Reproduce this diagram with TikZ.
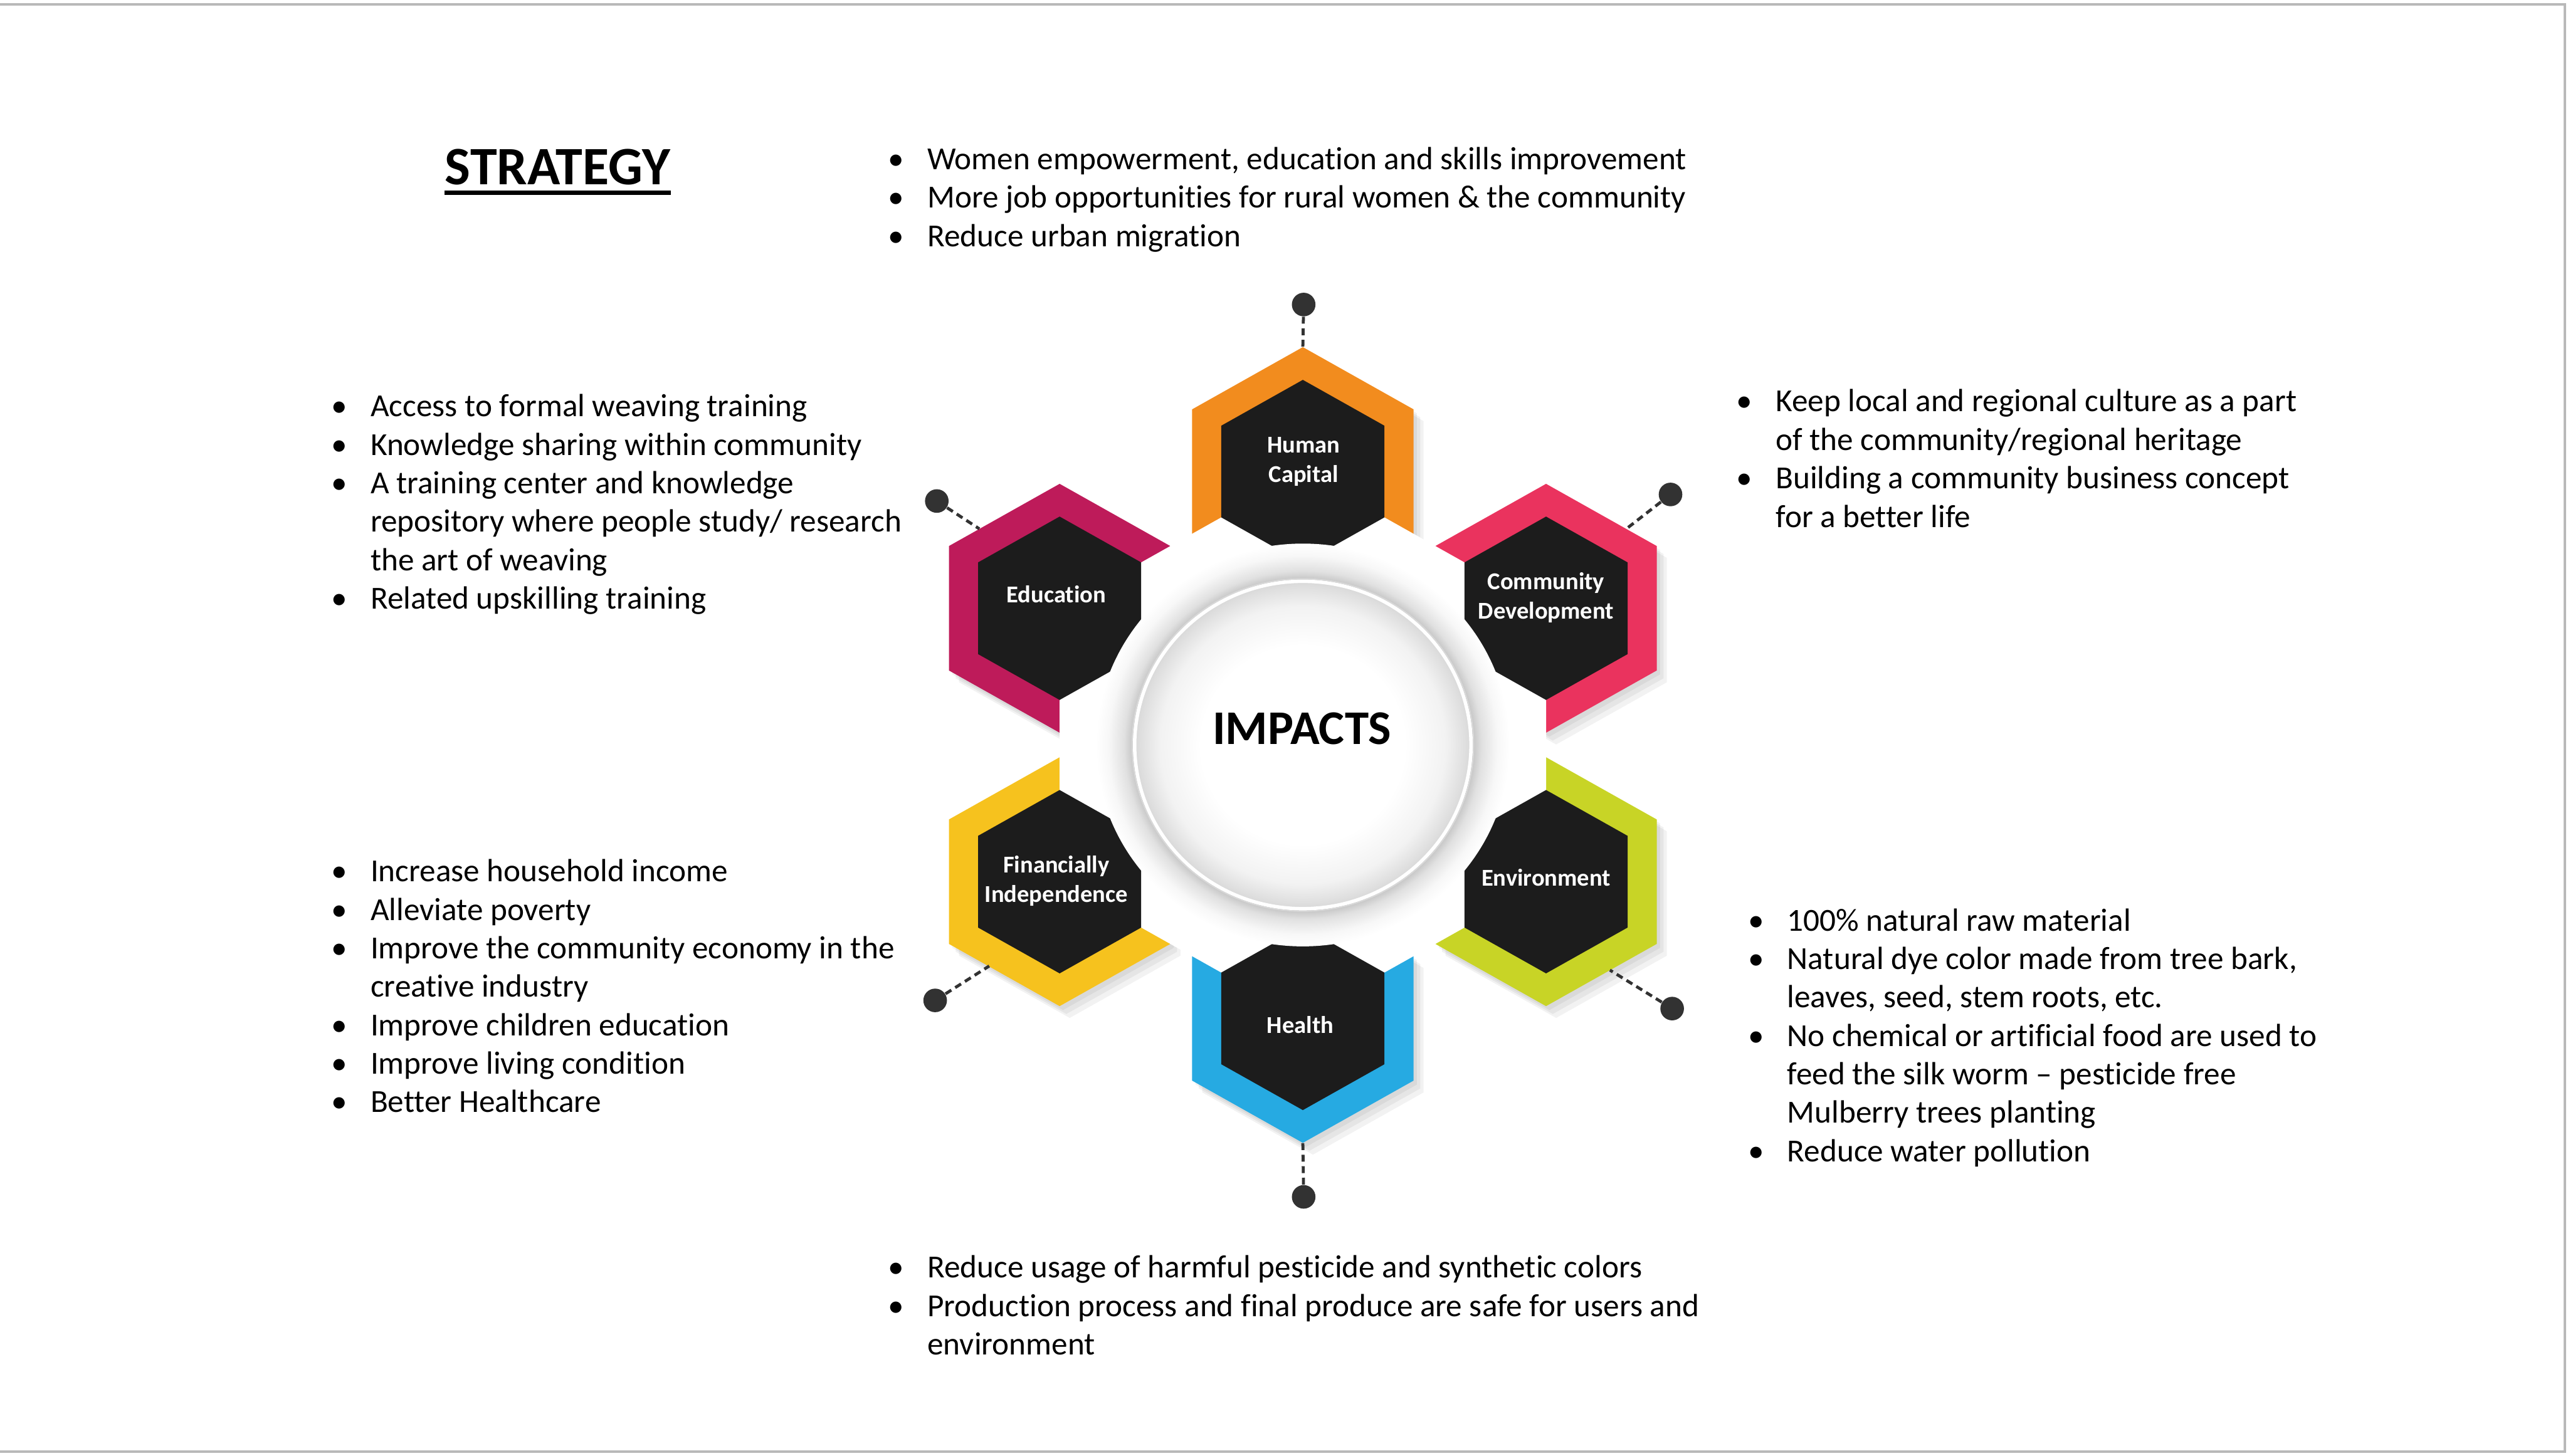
\documentclass[tikz,border=0pt]{standalone}
\usepackage{fontspec}
\setmainfont[Ligatures={NoCommon}]{Carlito}
\usetikzlibrary{calc}
\definecolor{hcorange}{RGB}{242,140,30}
\definecolor{cdred}{RGB}{234,51,94}
\definecolor{envlime}{RGB}{200,212,38}
\definecolor{healthblue}{RGB}{38,170,226}
\definecolor{fiyellow}{RGB}{246,194,30}
\definecolor{educrimson}{RGB}{190,27,90}
\definecolor{hexblack}{RGB}{28,28,28}
\definecolor{dotgray}{RGB}{50,50,50}
\definecolor{framegray}{RGB}{185,185,185}
\pgfdeclareradialshading{ringshade}{\pgfpoint{0bp}{0bp}}{color(0bp)=(black!24); color(20.4bp)=(black!24); color(21.6bp)=(black!12); color(23.5bp)=(black!3); color(25bp)=(white); color(50bp)=(white)}
\pgfdeclareradialshading{diskshade}{\pgfpoint{0bp}{0bp}}{color(0bp)=(white); color(15bp)=(white); color(21bp)=(black!5); color(24bp)=(black!13); color(25bp)=(black!16); color(50bp)=(black!16)}
\newcommand\hexag[3]{({#1+#3*0.866025},{#2+#3*0.5}) -- ({#1},{#2+#3}) -- ({#1-#3*0.866025},{#2+#3*0.5}) -- ({#1-#3*0.866025},{#2-#3*0.5}) -- ({#1},{#2-#3}) -- ({#1+#3*0.866025},{#2-#3*0.5}) -- cycle}
\begin{document}
\begin{tikzpicture}[x=0.025cm, y=-0.025cm,
  bullettext/.style={anchor=base west, inner sep=0pt, font=\fontsize{13.95}{16.7}\selectfont},
  hexlabel/.style={text=white, font=\fontsize{10.5}{12.8}\selectfont\bfseries, align=center, inner sep=0pt},
  dotnode/.style={circle, fill=dotgray, minimum size=0.36cm, inner sep=0pt},
  dashline/.style={dotgray, line width=1.3pt, dash pattern=on 3pt off 2pt},
  hexshadow/.style={fill=black, opacity=0.05}]
\useasboundingbox (0,0) rectangle (1568,889);
\fill[white] (0,0) rectangle (1568,889);
\draw[framegray, line width=1pt] (0,2.7) -- (1566,2.7) -- (1566,886.5) -- (0,886.5);

% ---------- hexagon cluster ----------
\begin{scope}[shift={(795.5,455)}, xscale=1.027]
  \foreach \cx/\cy in {0/-167, 144.6/-83.5, 144.6/83.5, 0/167, -144.6/83.5, -144.6/-83.5}{
    \foreach \d in {2,4,6}{
      \fill[hexshadow] \hexag{\cx+\d}{\cy+\d*1.2}{76};
    }
  }
  \fill[hcorange]    \hexag{0}{-167}{76};
  \fill[cdred]       \hexag{144.6}{-83.5}{76};
  \fill[envlime]     \hexag{144.6}{83.5}{76};
  \fill[healthblue]  \hexag{0}{167}{76};
  \fill[fiyellow]    \hexag{-144.6}{83.5}{76};
  \fill[educrimson]  \hexag{-144.6}{-83.5}{76};
  \fill[white] \hexag{0}{0}{167};
  \foreach \cx/\cy in {0/-167, 144.6/-83.5, 144.6/83.5, 0/167, -144.6/83.5, -144.6/-83.5}{
    \fill[hexblack] \hexag{\cx}{\cy}{56};
  }
  \shade[shading=ringshade] (0,0) circle (123);
  \shade[shading=diskshade] (0,0) circle (101);
  \draw[white, line width=1.5pt] (0,0) circle (100);
  \draw[black!15, line width=0.5pt] (0,0) circle (101.5);
\end{scope}

% ---------- connector ends ----------
\coordinate (hcEnd) at (795.5,212);
\coordinate (cdEnd) at (993,323);
\coordinate (envEnd) at (983,592.5);
\coordinate (healthEnd) at (795.5,698);
\coordinate (fiEnd) at (604,590);
\coordinate (eduEnd) at (598,323);

\node[dotnode] (dotHC) at (796,186) {};
\node[dotnode] (dotCD) at (1020,302) {};
\node[dotnode] (dotEnv) at (1021,616) {};
\node[dotnode] (dotHealth) at (796,731) {};
\node[dotnode] (dotFI) at (571,611) {};
\node[dotnode] (dotEdu) at (572,306) {};

\draw[dashline] (dotHC) -- (hcEnd);
\draw[dashline] (dotCD) -- (cdEnd);
\draw[dashline] (dotEnv) -- (envEnd);
\draw[dashline] (dotHealth) -- (healthEnd);
\draw[dashline] (dotFI) -- (fiEnd);
\draw[dashline] (dotEdu) -- (eduEnd);

% ---------- labels ----------
\node[hexlabel] (hc) at (796,282) {Human\\Capital};
\node[hexlabel] (edu) at (645,363) {Education};
\node[hexlabel] (cd) at (944,365) {Community\\Development};
\node[hexlabel] (fi) at (645,538) {Financially\\Independence};
\node[hexlabel] (env) at (944,536) {Environment};
\node[hexlabel] (health) at (794,626) {Health};
\node[font=\fontsize{21}{25}\selectfont\bfseries, inner sep=0pt] (impacts) at (795,445) {IMPACTS};

\node[font=\fontsize{23.5}{28}\selectfont\bfseries, inner sep=0pt] (strategy) at (340.5,102) {STRATEGY};
\draw[line width=1.8pt] ([yshift=-3.6pt]strategy.base west) -- ([yshift=-3.6pt]strategy.base east);

% ---------- bullet blocks ----------
\node[bullettext] (topblock) at (542,103.5) {\begin{tabular}[t]{@{}p{0.6cm}@{}l@{}}
\textbullet & Women empowerment, education and skills improvement\\
\textbullet & More job opportunities for rural women \& the community\\
\textbullet & Reduce urban migration
\end{tabular}};

\node[bullettext] (edublock) at (202,254.5) {\begin{tabular}[t]{@{}p{0.6cm}@{}l@{}}
\textbullet & Access to formal weaving training\\
\textbullet & Knowledge sharing within community\\
\textbullet & A training center and knowledge\\
 & repository where people study/ research\\
 & the art of weaving\\
\textbullet & Related upskilling training
\end{tabular}};

\node[bullettext] (cdblock) at (1060,251.5) {\begin{tabular}[t]{@{}p{0.6cm}@{}l@{}}
\textbullet & Keep local and regional culture as a part\\
 & of the community/regional heritage\\
\textbullet & Building a community business concept\\
 & for a better life
\end{tabular}};

\node[bullettext] (fiblock) at (202,538.5) {\begin{tabular}[t]{@{}p{0.6cm}@{}l@{}}
\textbullet & Increase household income\\
\textbullet & Alleviate poverty\\
\textbullet & Improve the community economy in the\\
 & creative industry\\
\textbullet & Improve children education\\
\textbullet & Improve living condition\\
\textbullet & Better Healthcare
\end{tabular}};

\node[bullettext] (envblock) at (1067,568.5) {\begin{tabular}[t]{@{}p{0.6cm}@{}l@{}}
\textbullet & 100\% natural raw material\\
\textbullet & Natural dye color made from tree bark,\\
 & leaves, seed, stem roots, etc.\\
\textbullet & No chemical or artificial food are used to\\
 & feed the silk worm – pesticide free\\
 & Mulberry trees planting\\
\textbullet & Reduce water pollution
\end{tabular}};

\node[bullettext] (healthblock) at (542,780.5) {\begin{tabular}[t]{@{}p{0.6cm}@{}l@{}}
\textbullet & Reduce usage of harmful pesticide and synthetic colors\\
\textbullet & Production process and final produce are safe for users and\\
 & environment
\end{tabular}};
\end{tikzpicture}
\end{document}
